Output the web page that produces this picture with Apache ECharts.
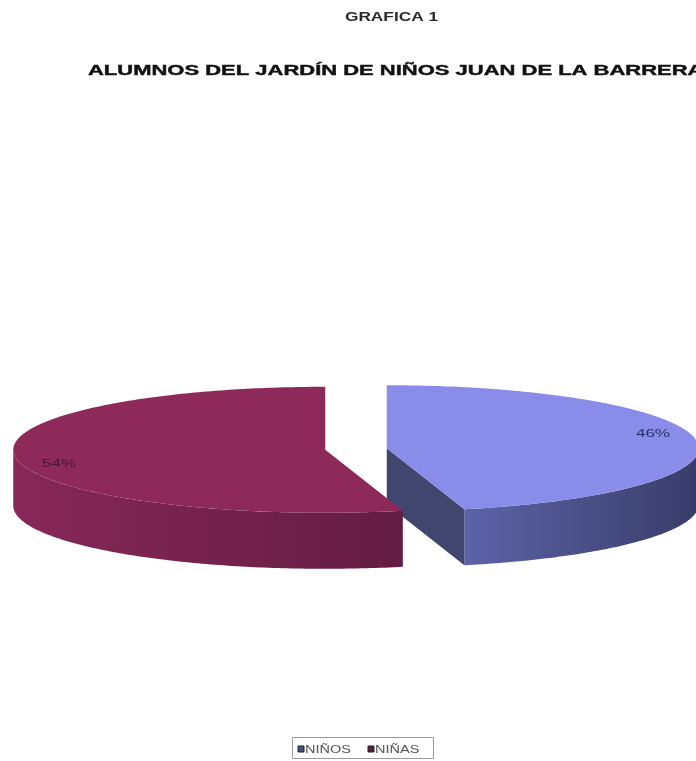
<!DOCTYPE html>
<html>
<head>
<meta charset="utf-8">
<script src="https://cdn.jsdelivr.net/npm/echarts@6/dist/echarts.min.js"></script>
<style>
  html, body { margin: 0; padding: 0; background: #ffffff; }
  #chart { width: 696px; height: 761px; }
</style>
</head>
<body>
<div id="chart"></div>
<script>
// Enrolment split of the kindergarten, in percent
const categories = ['NIÑOS', 'NIÑAS'];
const shares = [46, 54];

// Face colours per slice
const topColors   = ['#8A8CE9', '#8E2A5A'];
const wallLight   = ['#5D63A8', '#872858'];
const wallDark    = ['#383C69', '#631C42'];
const cutColors   = ['#41466F', '#5A1A3C'];
const labelColors = ['#2C3068', '#4E1538'];
const keyColors   = ['#4A4C80', '#5A1C3C'];

// Tilted-disc geometry of the 3D pie
const PIE = { cx: 356, cy: 449, rx: 312, ry: 63, depth: 56, explode: 31 };
const FONT = '"Liberation Sans", Arial, sans-serif';

function renderSlice(params, api) {
  const i = params.dataIndex;
  const total = shares.reduce((s, v) => s + v, 0);
  const before = shares.slice(0, i).reduce((s, v) => s + v, 0);
  const value = api.value(0);
  const a0 = before / total * 2 * Math.PI;
  const a1 = (before + value) / total * 2 * Math.PI;
  const mid = (a0 + a1) / 2;

  // exploded centre of this slice
  const ox = PIE.cx + Math.sin(mid) * PIE.explode;
  const oy = PIE.cy - Math.cos(mid) * PIE.explode * PIE.ry / PIE.rx;
  const at = (a, dz) => [ox + PIE.rx * Math.sin(a), oy - PIE.ry * Math.cos(a) + dz];
  const arc = (s, e, dz) => {
    const n = Math.max(2, Math.ceil(Math.abs(e - s) / 0.015));
    const pts = [];
    for (let k = 0; k <= n; k++) pts.push(at(s + (e - s) * k / n, dz));
    return pts;
  };

  const children = [];
  const c = [ox, oy];
  const cd = [ox, oy + PIE.depth];

  // outer wall, front half only
  const ws = Math.max(a0, Math.PI / 2);
  const we = Math.min(a1, 1.5 * Math.PI);
  if (we > ws) {
    children.push({
      type: 'polygon',
      shape: { points: arc(ws, we, 0).concat(arc(we, ws, PIE.depth)) },
      style: {
        fill: new echarts.graphic.LinearGradient(0, 0, 1, 0, [
          { offset: 0, color: wallLight[i] },
          { offset: 1, color: wallDark[i] }
        ])
      }
    });
  }
  // radial cut faces that turn toward the viewer
  if (Math.sin(a1) > 1e-6) {
    children.push({
      type: 'polygon',
      shape: { points: [c, at(a1, 0), at(a1, PIE.depth), cd] },
      style: { fill: cutColors[i] }
    });
  }
  if (Math.sin(a0) < -1e-6) {
    children.push({
      type: 'polygon',
      shape: { points: [c, at(a0, 0), at(a0, PIE.depth), cd] },
      style: { fill: cutColors[i] }
    });
  }
  // top face
  children.push({
    type: 'polygon',
    shape: { points: [c].concat(arc(a0, a1, 0)) },
    style: { fill: topColors[i] }
  });
  // percentage label
  children.push({
    type: 'text',
    x: ox + PIE.rx * 0.86 * Math.sin(mid),
    y: oy - PIE.ry * 1.75 * Math.cos(mid),
    scaleX: 1.55,
    style: {
      text: Math.round(value / total * 100) + '%',
      font: '11px ' + FONT,
      fill: labelColors[i],
      align: 'center',
      verticalAlign: 'middle'
    }
  });
  return { type: 'group', children };
}

const chart = echarts.init(document.getElementById('chart'), null, { renderer: 'canvas' });

const legendItems = [];
let lx = 298;
categories.forEach((name, i) => {
  legendItems.push({
    type: 'rect',
    shape: { x: lx, y: 746, width: 6, height: 6 },
    style: { fill: keyColors[i], stroke: '#222222', lineWidth: 1 }
  });
  legendItems.push({
    type: 'text',
    x: lx + 7,
    y: 750,
    scaleX: 1.45,
    style: { text: name, font: '10px ' + FONT, fill: '#555555', align: 'left', verticalAlign: 'middle' }
  });
  lx += 70;
});

chart.setOption({
  animation: false,
  backgroundColor: '#ffffff',
  graphic: [
    {
      type: 'text', x: 391.5, y: 18, scaleX: 1.44,
      style: { text: 'GRAFICA 1', font: 'bold 12px ' + FONT, fill: '#2a2a2a', align: 'center', verticalAlign: 'middle' }
    },
    {
      type: 'text', x: 88, y: 71.5, scaleX: 1.57,
      style: {
        text: 'ALUMNOS DEL JARDÍN DE NIÑOS JUAN DE LA BARRERA', font: 'bold 14px ' + FONT,
        fill: '#111111', stroke: '#111111', lineWidth: 0.4, align: 'left', verticalAlign: 'middle'
      }
    },
    {
      type: 'rect',
      shape: { x: 292.5, y: 737.5, width: 141, height: 21 },
      style: { fill: '#ffffff', stroke: '#9a9a9a', lineWidth: 1 }
    }
  ].concat(legendItems),
  series: [{
    type: 'custom',
    coordinateSystem: 'none',
    renderItem: renderSlice,
    data: shares.map((v, i) => ({ name: categories[i], value: [v] }))
  }]
});
</script>
</body>
</html>
